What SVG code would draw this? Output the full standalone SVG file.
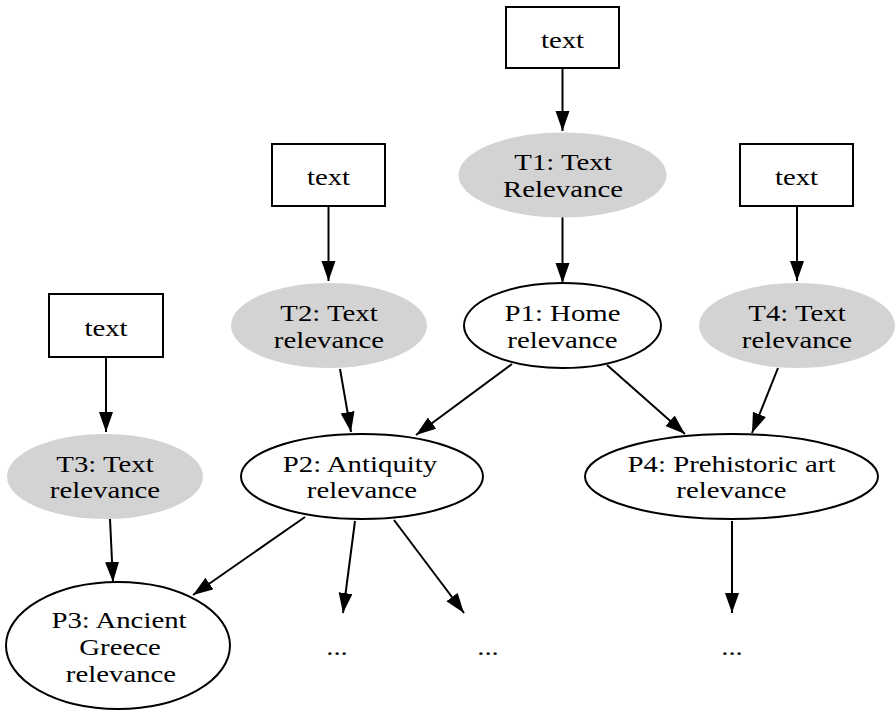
<svg xmlns="http://www.w3.org/2000/svg" width="896" height="712" viewBox="0 0 896 712">
<style>
text{font-family:'Liberation Serif','Times New Roman',Times,'DejaVu Serif',serif;font-size:24px;text-anchor:middle;fill:#000}
.box{fill:#fff;stroke:#000;stroke-width:2}
.p{fill:#fff;stroke:#000;stroke-width:2}
.t{fill:#d3d3d3;stroke:none}
.e{stroke:#000;stroke-width:2;fill:none;marker-end:url(#ah)}
</style>
<defs>
<marker id="ah" markerUnits="userSpaceOnUse" markerWidth="22" markerHeight="16" refX="20" refY="7" orient="auto">
<polygon points="0,0 20,7 0,14" fill="#000"/>
</marker>
</defs>
<rect width="896" height="712" fill="#fff"/>
<g id="connectors">
<line class="e" x1="562.5" y1="68" x2="562.5" y2="131"/>
<line class="e" x1="562.5" y1="217" x2="562.5" y2="283"/>
<line class="e" x1="328.5" y1="206" x2="328.5" y2="281"/>
<line class="e" x1="797" y1="206" x2="797" y2="281"/>
<line class="e" x1="106" y1="357" x2="106" y2="432"/>
<line class="e" x1="340" y1="369" x2="351" y2="432"/>
<line class="e" x1="512" y1="364" x2="416" y2="435"/>
<line class="e" x1="607" y1="365" x2="685" y2="434"/>
<line class="e" x1="778" y1="368" x2="752" y2="433"/>
<line class="e" x1="110" y1="519" x2="113" y2="582"/>
<line class="e" x1="305" y1="517" x2="193" y2="595"/>
<line class="e" x1="355" y1="521" x2="343" y2="613"/>
<line class="e" x1="394" y1="520" x2="464" y2="613"/>
<line class="e" x1="732" y1="521" x2="732" y2="613"/>
</g>
<g id="box1"><rect class="box" x="506" y="7" width="113" height="61"/><text transform="translate(562.5,48) scale(1.2,1)">text</text></g>
<g id="box2"><rect class="box" x="272" y="144" width="113" height="62"/><text transform="translate(328.5,185) scale(1.2,1)">text</text></g>
<g id="box4"><rect class="box" x="740" y="144" width="113" height="62"/><text transform="translate(796.5,185) scale(1.2,1)">text</text></g>
<g id="box3"><rect class="box" x="49" y="294" width="114" height="63"/><text transform="translate(106,336) scale(1.2,1)">text</text></g>
<g id="T1"><ellipse class="t" cx="562.5" cy="175" rx="104" ry="42.5"/><text transform="translate(563,170) scale(1.2,1)">T1: Text</text><text transform="translate(563,197) scale(1.2,1)">Relevance</text></g>
<g id="P1"><ellipse class="p" cx="562.5" cy="325.5" rx="98.5" ry="42.5"/><text transform="translate(562.5,321) scale(1.2,1)">P1: Home</text><text transform="translate(562.5,348) scale(1.2,1)">relevance</text></g>
<g id="T2"><ellipse class="t" cx="329" cy="325.5" rx="98" ry="42.5"/><text transform="translate(329,321) scale(1.2,1)">T2: Text</text><text transform="translate(329,348) scale(1.2,1)">relevance</text></g>
<g id="T4"><ellipse class="t" cx="797" cy="325.5" rx="98" ry="42.5"/><text transform="translate(797,321) scale(1.2,1)">T4: Text</text><text transform="translate(797,348) scale(1.2,1)">relevance</text></g>
<g id="T3"><ellipse class="t" cx="105" cy="476.5" rx="98" ry="42.5"/><text transform="translate(105,472) scale(1.2,1)">T3: Text</text><text transform="translate(105,498) scale(1.2,1)">relevance</text></g>
<g id="P2"><ellipse class="p" cx="362" cy="476.5" rx="121" ry="42.5"/><text transform="translate(360,472) scale(1.2,1)">P2: Antiquity</text><text transform="translate(362,498) scale(1.2,1)">relevance</text></g>
<g id="P4"><ellipse class="p" cx="731.5" cy="476.5" rx="146.5" ry="42.5"/><text transform="translate(731.5,472) scale(1.2,1)">P4: Prehistoric art</text><text transform="translate(731.5,498) scale(1.2,1)">relevance</text></g>
<g id="P3"><ellipse class="p" cx="118" cy="645.5" rx="112" ry="63.5"/><text transform="translate(119,628) scale(1.2,1)">P3: Ancient</text><text transform="translate(120,655) scale(1.2,1)">Greece</text><text transform="translate(121,682) scale(1.2,1)">relevance</text></g>
<g id="dots1"><text transform="translate(337,655) scale(1.2,1)">...</text></g>
<g id="dots2"><text transform="translate(488,655) scale(1.2,1)">...</text></g>
<g id="dots3"><text transform="translate(732,655) scale(1.2,1)">...</text></g>
</svg>
